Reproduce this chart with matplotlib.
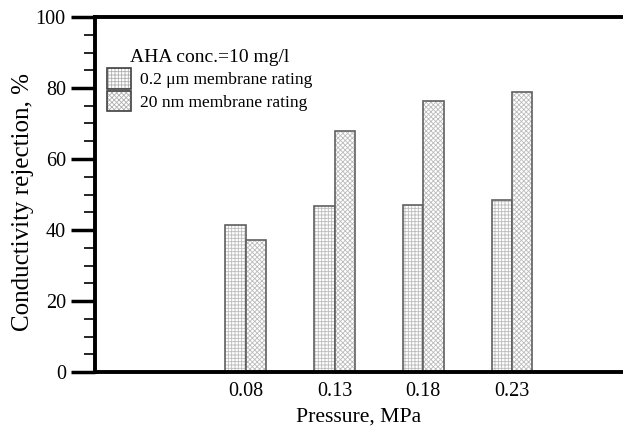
import matplotlib
matplotlib.use("Agg")
import matplotlib.pyplot as plt
import numpy as np
from matplotlib.patches import Patch
from matplotlib.legend_handler import HandlerTuple

plt.rcParams['font.family'] = ['Liberation Serif', 'DejaVu Serif']
plt.rcParams['hatch.linewidth'] = 0.6

categories = ["0.08", "0.13", "0.18", "0.23"]
series_names = ["0.2 \u03bcm membrane rating", "20 nm membrane rating"]
rating_02um = [41.3, 46.8, 47.1, 48.5]
rating_20nm = [37.3, 67.8, 76.4, 78.9]
legend_title = "AHA conc.=10 mg/l"

fig = plt.figure(figsize=(6.23, 4.26), dpi=100)
ax = fig.add_axes([95/623, 54/426, (622-95)/623, (372-17)/426])

x = np.arange(len(categories))
w = 0.23
hatches = ['+++++', 'xxxxxxx']
for vals, off, h in [(rating_02um, -w/2, hatches[0]), (rating_20nm, w/2, hatches[1])]:
    ax.bar(x + off, vals, w, color='white', edgecolor='#bcbcbc', hatch=h, linewidth=0)
    ax.bar(x + off, vals, w, fill=False, edgecolor='#606060', linewidth=1.2)

ax.set_xlim(-1.7, 3 + 1.24)
ax.set_ylim(0, 100)
ax.set_xticks(x)
ax.set_xticklabels(categories)
ax.set_yticks(np.arange(0, 101, 20))
ax.set_yticks(np.arange(0, 101, 5), minor=True)
ax.tick_params(axis='y', which='major', direction='out', length=17, width=2.5, labelsize=14.5, pad=4)
ax.tick_params(axis='y', which='minor', direction='out', length=8, width=1.2)
ax.tick_params(axis='x', which='both', length=0, labelsize=14.5, pad=7)
for s in ['left', 'bottom', 'top']:
    ax.spines[s].set_linewidth(2.8)
ax.spines['right'].set_visible(False)

ax.set_xlabel("Pressure, MPa", fontsize=15.6, labelpad=5)
ax.set_ylabel("Conductivity rejection, %", fontsize=18)
ax.yaxis.set_label_coords(-0.115, 0.48)

handles = []
for name, h in zip(series_names, hatches):
    handles.append((Patch(facecolor='white', edgecolor='#b0b0b0', hatch=h, linewidth=0),
                    Patch(fill=False, edgecolor='#404040', linewidth=1.2)))
leg = ax.legend(handles=handles, labels=series_names, loc='upper left', bbox_to_anchor=(0.0, 0.945),
                handler_map={tuple: HandlerTuple(ndivide=1, pad=0)},
                frameon=False, fontsize=12.6, title=legend_title, title_fontsize=14,
                handlelength=1.35, handleheight=1.4, handletextpad=0.5, labelspacing=0.15,
                borderaxespad=0.3)
leg._legend_box.align = 'center'

fig.savefig("out.png", dpi=100)
